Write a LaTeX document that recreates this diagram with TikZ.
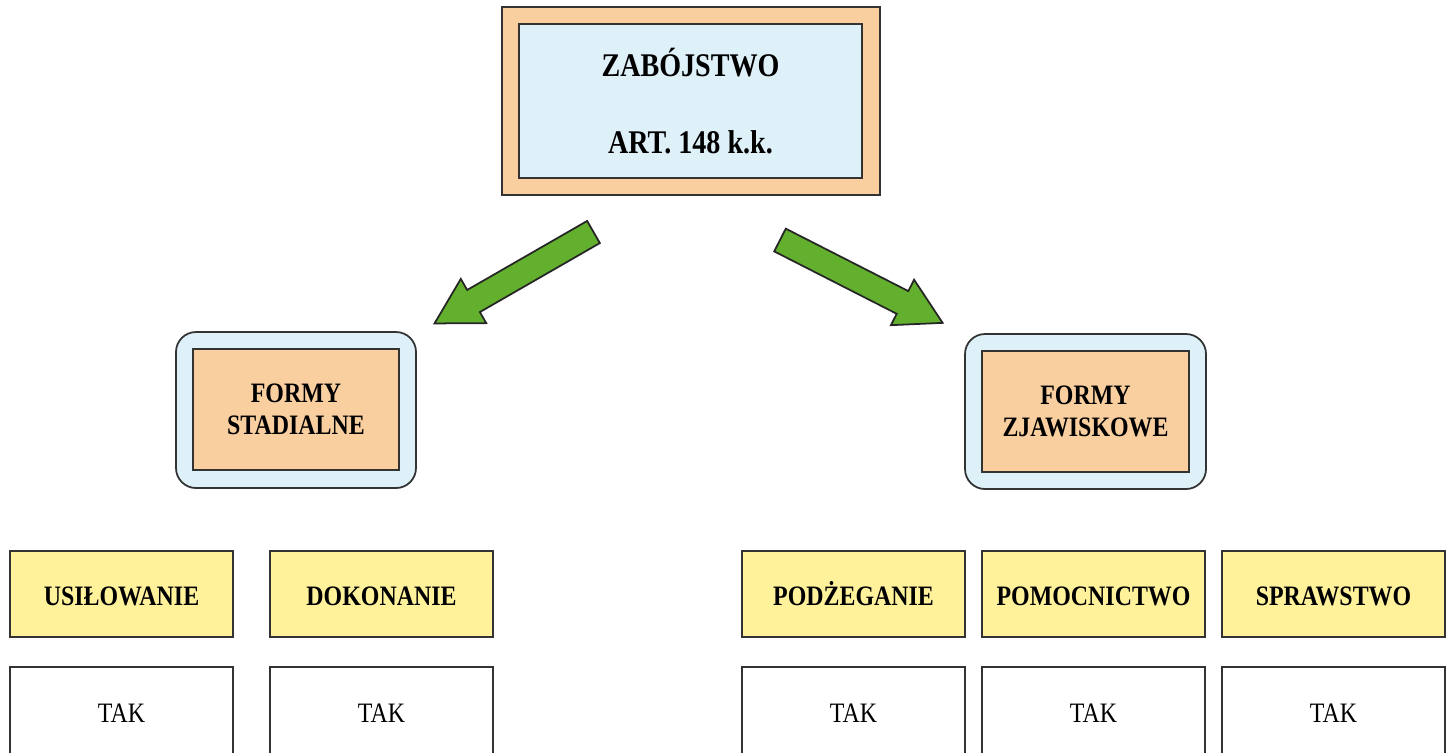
\documentclass[tikz,border=0pt]{standalone}
\usepackage{fontspec}
\setmainfont[FakeStretch=0.85]{Liberation Serif}
\definecolor{peach}{HTML}{FACFA0}
\definecolor{paleblue}{HTML}{DEF0F8}
\definecolor{paleyellow}{HTML}{FFF29B}
\definecolor{leafgreen}{HTML}{63B02E}
\tikzset{font=\fontsize{8}{9.2}\selectfont}

\begin{document}
\begin{tikzpicture}
	\useasboundingbox (0,0) rectangle (14.52,-7.52);
	\clip (0,0) rectangle (14.52,-7.52);
	\tikzstyle{every node}=[align=center, inner sep=1pt, draw=black!80, line width=0.5pt]
	\tikzstyle{formbox}=[fill=paleyellow, minimum width=2.23cm, minimum height=0.86cm, text height=0.66em, text depth=0pt, font=\fontsize{8}{9.2}\selectfont\bfseries]
	\tikzstyle{answerbox}=[fill=white, minimum width=2.23cm, minimum height=0.92cm]
	\tikzstyle{greenarrow}=[fill=leafgreen, draw=black!85, line width=0.5pt, line join=miter]

	% top
	\node[fill=peach, minimum width=3.78cm, minimum height=1.88cm] (zab) at (6.91, -1.01) {};
	\node[fill=paleblue, minimum width=3.43cm, minimum height=1.54cm, font=\fontsize{9.4}{11}\selectfont\bfseries] (zabin) at (6.905, -1.01) {ZABÓJSTWO\\[11pt]ART. 148 k.k.};

	% groups
	\node[fill=paleblue, rounded corners=0.2cm, minimum width=2.40cm, minimum height=1.56cm] (stad) at (2.96, -4.10) {};
	\node[fill=peach, minimum width=2.06cm, minimum height=1.21cm, font=\fontsize{8}{9.2}\selectfont\bfseries] (stadin) at (2.96, -4.095) {FORMY\\STADIALNE};
	\node[fill=paleblue, rounded corners=0.2cm, minimum width=2.41cm, minimum height=1.55cm] (zjaw) at (10.855, -4.115) {};
	\node[fill=peach, minimum width=2.07cm, minimum height=1.21cm, font=\fontsize{8}{9.2}\selectfont\bfseries] (zjawin) at (10.855, -4.115) {FORMY\\ZJAWISKOWE};

	\coordinate (tailL) at (5.935, -2.32);
	\coordinate (tailR) at (7.80, -2.40);
	\draw[greenarrow, shift={(tailL)}, rotate=209.9] (0,0.1275) -- (1.384,0.1275) -- (1.384,0.255) -- (1.834,0) -- (1.384,-0.255) -- (1.384,-0.1275) -- (0,-0.1275) -- cycle;
	\draw[greenarrow, shift={(tailR)}, rotate=-27.0] (0,0.1275) -- (1.375,0.1275) -- (1.375,0.255) -- (1.825,0) -- (1.375,-0.255) -- (1.375,-0.1275) -- (0,-0.1275) -- cycle;

	% forms
	\node[formbox] (usil) at (1.215, -5.94) {USIŁOWANIE};
	\node[formbox] (dok) at (3.815, -5.94) {DOKONANIE};
	\node[formbox] (podz) at (8.535, -5.94) {PODŻEGANIE};
	\node[formbox] (pom) at (10.935, -5.94) {POMOCNICTWO};
	\node[formbox] (spr) at (13.335, -5.94) {SPRAWSTWO};

	\node[answerbox] (usiltak) at (1.215, -7.13) {TAK};
	\node[answerbox] (doktak) at (3.815, -7.13) {TAK};
	\node[answerbox] (podztak) at (8.535, -7.13) {TAK};
	\node[answerbox] (pomtak) at (10.935, -7.13) {TAK};
	\node[answerbox] (sprtak) at (13.335, -7.13) {TAK};
\end{tikzpicture}
\end{document}
